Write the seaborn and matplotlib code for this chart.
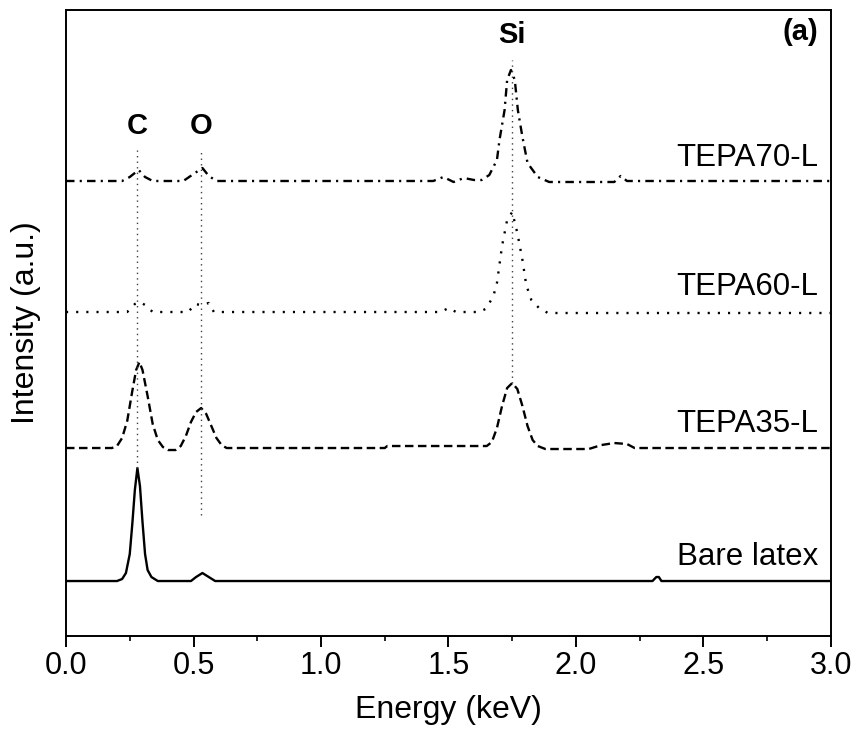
import pandas as pd
import seaborn as sns
import matplotlib.pyplot as plt
from matplotlib.ticker import MultipleLocator

# spectra (energy in keV, intensity in arbitrary offset units)
bare_e = [0.00, 0.20, 0.22, 0.235, 0.25, 0.26, 0.27, 0.28, 0.29, 0.30, 0.31, 0.32, 0.335, 0.36,
          0.49, 0.51, 0.535, 0.56, 0.585, 2.30, 2.315, 2.325, 2.335, 3.00]
bare_i = [55, 55, 57, 63, 82, 112, 146, 168, 150, 114, 82, 66, 59, 55,
          55, 59, 63, 59, 55, 55, 59, 59, 55, 55]

tepa35_e = [0.00, 0.18, 0.20, 0.22, 0.24, 0.26, 0.275, 0.288, 0.30, 0.32, 0.34, 0.36, 0.38, 0.40,
            0.43, 0.45, 0.47, 0.49, 0.51, 0.53, 0.55, 0.57, 0.59, 0.61, 0.63, 1.25, 1.26, 1.65,
            1.67, 1.69, 1.71, 1.73, 1.75, 1.77, 1.79, 1.81, 1.83, 1.85, 1.88, 2.05, 2.10, 2.15,
            2.20, 2.23, 3.00]
tepa35_i = [188, 188, 190, 198, 215, 245, 266, 274, 266, 240, 212, 196, 189, 186,
            186, 190, 200, 214, 224, 228, 222, 210, 198, 191, 188, 188, 190, 190,
            194, 208, 230, 248, 253, 247, 230, 210, 196, 190, 187, 187, 191, 193,
            192, 188, 188]

tepa60_e = [0.00, 0.24, 0.27, 0.29, 0.31, 0.34, 0.48, 0.505, 0.53, 0.56, 0.58, 1.47, 1.50, 1.53,
            1.62, 1.645, 1.675, 1.69, 1.71, 1.73, 1.75, 1.77, 1.79, 1.805, 1.825, 1.855, 1.89, 3.00]
tepa60_i = [324, 324, 332, 334, 331, 324, 324, 332, 331, 333, 324, 324, 328, 324,
            324, 327, 339, 353, 390, 416, 424, 403, 376, 351, 336, 328, 323, 323]

tepa70_e = [0.00, 0.22, 0.25, 0.285, 0.31, 0.34, 0.46, 0.50, 0.535, 0.56, 0.59, 1.44, 1.48, 1.52,
            1.56, 1.60, 1.63, 1.66, 1.69, 1.70, 1.72, 1.73, 1.745, 1.76, 1.772, 1.79, 1.81, 1.85,
            1.895, 2.15, 2.175, 2.20, 3.00]
tepa70_i = [455, 455, 459, 466, 459, 455, 455, 462, 468, 460, 455, 455, 459, 454,
            458, 456, 456, 461, 476, 496, 526, 556, 566, 556, 526, 499, 473, 459,
            454, 454, 460, 455, 455]

series_names = ['Bare latex', 'TEPA35-L', 'TEPA60-L', 'TEPA70-L']
label_y = [71, 204, 341, 470]

# element guide lines
elements = ['C', 'O', 'Si']
element_e = [0.28, 0.53, 1.75]
guide_lo = [168, 121, 253]
guide_hi = [486, 486, 576]
element_label_y = [502, 502, 593]

sns.set_style('ticks')
plt.rcParams['font.family'] = ['Liberation Sans', 'DejaVu Sans']
plt.rcParams['text.color'] = 'black'
plt.rcParams['axes.labelcolor'] = 'black'
plt.rcParams['xtick.color'] = 'black'

fig = plt.figure(figsize=(8.55, 7.4), dpi=100)
ax = fig.add_axes([0.0772, 0.1405, 0.8947, 0.846])

frames = [
    (bare_e, bare_i, '-'),
    (tepa35_e, tepa35_i, (0, (3.6, 1.9))),
    (tepa60_e, tepa60_i, (0, (0.9, 3.4))),
    (tepa70_e, tepa70_i, (0, (3.6, 2.2, 0.9, 2.2))),
]
for name, (e, i, ls) in zip(series_names, frames):
    df = pd.DataFrame({'energy': e, 'intensity': i})
    sns.lineplot(data=df, x='energy', y='intensity', estimator=None, sort=False,
                 color='black', linewidth=1.7, ax=ax)
    ax.lines[-1].set_linestyle(ls)

for el, x, lo, hi, ty in zip(elements, element_e, guide_lo, guide_hi, element_label_y):
    ax.vlines(x, lo, hi, colors='0.25', linewidth=1.0, linestyles=(0, (1, 3)))
    ax.text(x, ty, el, ha='center', va='baseline', fontsize=21, fontweight='bold')

for name, ty in zip(series_names, label_y):
    ax.text(2.95, ty, name, ha='right', va='baseline', fontsize=22.5)

ax.text(2.95, 596, '(a)', ha='right', va='baseline', fontsize=21, fontweight='bold')

ax.set_xlim(0, 3.0)
ax.set_ylim(0, 626)
ax.xaxis.set_major_locator(MultipleLocator(0.5))
ax.xaxis.set_minor_locator(MultipleLocator(0.25))
ax.set_yticks([])
ax.tick_params(axis='x', which='major', direction='out', length=8, width=1.4,
               labelsize=22, pad=3)
ax.tick_params(axis='x', which='minor', direction='out', length=3.5, width=1.2)
for sp in ax.spines.values():
    sp.set_visible(True)
    sp.set_linewidth(1.4)
    sp.set_color('black')

ax.set_xlabel('Energy (keV)', fontsize=23, labelpad=10)
ax.set_ylabel('Intensity (a.u.)', fontsize=23, labelpad=18)

fig.savefig('out.png', dpi=100)
